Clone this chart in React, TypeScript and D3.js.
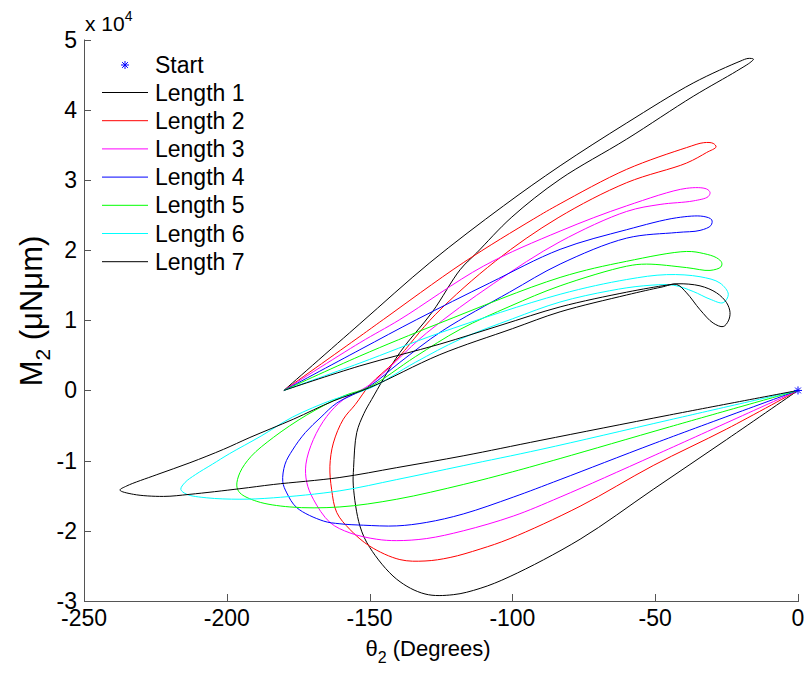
import * as d3 from "d3";
import * as React from "react";

// theta2 in degrees, M2 in units of 10^4 uN.um.
// every length is traced from Start (0,0): lower loop, back through ~(-150,0),
// out to the upper tip, then back along the upper edge to (-180,0)
const length1: [number, number][] = [
  [0, 0], [-25, -0.7], [-50.7, -1.41], [-76.3, -2.12], [-100.8, -2.65], [-111.3, -2.82],
  [-120.7, -2.91], [-130.6, -2.9], [-140.5, -2.69], [-149.9, -2.24], [-153.4, -1.93],
  [-155.7, -1.36], [-155.6, -1.1], [-154.5, -0.6], [-152, -0.33], [-149.3, -0.13],
  [-139.4, 0.54], [-128, 1.12], [-118.3, 1.72], [-112.5, 1.96], [-100.2, 2.47],
  [-83.3, 3.01], [-60, 3.58], [-36.7, 4.19], [-21.5, 4.55], [-16.5, 4.68], [-15.6, 4.72],
  [-17.5, 4.73], [-20.3, 4.69], [-36.7, 4.38], [-60, 3.81], [-83.3, 3.2], [-103.1, 2.63],
  [-128.9, 1.82], [-153.4, 0.95], [-180, 0],
];
const length2: [number, number][] = [
  [0, 0], [-25, -0.55], [-50.7, -1.07], [-76.3, -1.65], [-100.8, -2.11], [-111.3, -2.26],
  [-121.8, -2.38], [-130.6, -2.43], [-139.4, -2.41], [-149.9, -2.22], [-156.9, -1.98],
  [-161.5, -1.74], [-163.3, -1.41], [-163.9, -1.08], [-162.7, -0.75], [-159.2, -0.41],
  [-155, -0.2], [-149.9, 0.08], [-141, 0.42], [-127, 1.08], [-106, 1.84], [-84, 2.46],
  [-60, 2.96], [-39, 3.24], [-32, 3.39], [-28.7, 3.47], [-29.7, 3.52], [-33, 3.53],
  [-39, 3.46], [-60, 3.15], [-83.3, 2.66], [-92.7, 2.44], [-117.2, 1.82], [-145.2, 1.01],
  [-153.4, 0.77], [-180, 0],
];
const length3: [number, number][] = [
  [0, 0], [-50, -0.92], [-83.3, -1.52], [-99.7, -1.79], [-117.2, -2.0], [-130, -2.11],
  [-140.5, -2.14], [-147.5, -2.12], [-156.9, -2.03], [-163.9, -1.88], [-169.7, -1.55],
  [-172, -1.31], [-172.3, -1.05], [-169.7, -0.7], [-165, -0.37], [-159.2, -0.13],
  [-150, 0.08], [-130, 0.82], [-106.7, 1.52], [-83.3, 2.12], [-60, 2.55], [-48.3, 2.65],
  [-36.7, 2.7], [-31.5, 2.76], [-30.8, 2.82], [-32, 2.87], [-39, 2.88], [-60, 2.63],
  [-83.3, 2.27], [-110.2, 1.77], [-139.4, 1.01], [-153.4, 0.68], [-180, 0],
];
const length4: [number, number][] = [
  [0, 0], [-50, -0.75], [-83.3, -1.27], [-99.7, -1.52], [-117.2, -1.76], [-130, -1.88],
  [-140.5, -1.93], [-152.2, -1.92], [-160.4, -1.9], [-166.2, -1.86], [-175.5, -1.67],
  [-179, -1.46], [-180.4, -1.3], [-179.6, -1.05], [-177, -0.85], [-172.5, -0.6],
  [-167, -0.38], [-161.5, -0.18], [-150, 0.06], [-139.4, 0.4], [-124.5, 0.85],
  [-101, 1.4], [-83.3, 1.8], [-60, 2.17], [-42.5, 2.25], [-34.3, 2.28], [-30.5, 2.35],
  [-30.2, 2.43], [-33.2, 2.48], [-42.5, 2.46], [-60, 2.29], [-83.3, 2.01], [-108, 1.53],
  [-133.5, 1.01], [-153.4, 0.58], [-180, 0],
];
const length5: [number, number][] = [
  [0, 0], [-45, -0.52], [-83.3, -0.97], [-100, -1.16], [-117.2, -1.34], [-140.5, -1.55],
  [-160.4, -1.66], [-177.9, -1.66], [-189.5, -1.58], [-195.4, -1.46], [-196.5, -1.36],
  [-195.4, -1.17], [-191.5, -0.94], [-183.7, -0.67], [-172, -0.35], [-159.2, -0.08],
  [-150, 0.05], [-134, 0.48], [-118.3, 0.87], [-100.8, 1.2], [-83.3, 1.49], [-60, 1.77],
  [-53, 1.8], [-39, 1.75], [-30.8, 1.71], [-27, 1.76], [-26.7, 1.82], [-28.5, 1.89],
  [-33, 1.95], [-39, 1.98], [-60, 1.84], [-83.3, 1.61], [-125.4, 0.96], [-153.4, 0.49],
  [-180, 0],
];
const length6: [number, number][] = [
  [0, 0], [-45, -0.42], [-90, -0.84], [-117, -1.07], [-140.5, -1.27],
  [-160.4, -1.43], [-183.7, -1.53], [-195.4, -1.55], [-207, -1.53], [-214, -1.48],
  [-216.1, -1.41], [-214.6, -1.31], [-211, -1.2], [-205, -1.05], [-199, -0.9],
  [-188, -0.65], [-177, -0.38], [-162.7, -0.13], [-150, 0.03], [-134, 0.4],
  [-118.3, 0.73], [-100, 1.02], [-83.3, 1.26], [-66, 1.42], [-54.2, 1.49], [-43.7, 1.5],
  [-36.7, 1.41], [-30.8, 1.3], [-26.2, 1.25], [-24.4, 1.37], [-27.3, 1.53], [-34.3, 1.62],
  [-46, 1.65], [-60, 1.58], [-83.3, 1.37], [-125.4, 0.82], [-153.4, 0.39], [-180, 0],
];
const length7: [number, number][] = [
  [0, 0], [-45, -0.35], [-90, -0.71], [-117, -0.93], [-140.5, -1.1],
  [-160.4, -1.24], [-183.7, -1.34], [-195.4, -1.4], [-212.9, -1.48], [-222.2, -1.51],
  [-232.7, -1.48], [-237.4, -1.42], [-235, -1.36], [-224.5, -1.2], [-212.9, -1.03],
  [-201.2, -0.84], [-191.9, -0.67], [-176.7, -0.41], [-162.7, -0.15], [-150, 0.04],
  [-125.4, 0.51], [-100, 0.88], [-83.3, 1.12], [-60, 1.36], [-48, 1.47], [-42.5, 1.51],
  [-39, 1.39], [-34.3, 1.15], [-29.7, 0.96], [-26.2, 0.91], [-24.4, 0.99], [-23.8, 1.11],
  [-25, 1.25], [-28.5, 1.39], [-34.3, 1.49], [-42, 1.52], [-46, 1.5], [-60, 1.4],
  [-83.3, 1.19], [-104, 0.93], [-125.4, 0.66], [-153.4, 0.35], [-180, 0],
];

const names = ["Length 1", "Length 2", "Length 3", "Length 4", "Length 5", "Length 6", "Length 7"];
const colors = ["#000000", "#ff0000", "#ff00ff", "#0000ff", "#00ff00", "#00ffff", "#000000"];
const lengths = [length1, length2, length3, length4, length5, length6, length7];
const start: [number, number] = [0, 0];

const xTicks = [-250, -200, -150, -100, -50, 0];
const yTicks = [-3, -2, -1, 0, 1, 2, 3, 4, 5];

const font = "'Liberation Sans', Arial, Helvetica, sans-serif";

function starPath(cx: number, cy: number, r: number) {
  const d = r * 0.72;
  return `M${cx - r},${cy}H${cx + r}M${cx},${cy - r}V${cy + r}` +
    `M${cx - d},${cy - d}L${cx + d},${cy + d}M${cx - d},${cy + d}L${cx + d},${cy - d}`;
}

export default function App() {
  const width = 809;
  const height = 674;
  const margin = { top: 39.5, right: 11, bottom: 73, left: 84 };

  const x = d3.scaleLinear().domain([-250, 0]).range([margin.left, width - margin.right]);
  const y = d3.scaleLinear().domain([-3, 5]).range([height - margin.bottom, margin.top]);

  const line = d3
    .line<[number, number]>()
    .x((d) => x(d[0]))
    .y((d) => y(d[1]))
    .curve(d3.curveCatmullRom.alpha(0.5));

  const x0 = x(-250);
  const yb = y(-3);

  return (
    <svg
      width={width}
      height={height}
      style={{ position: "absolute", left: 0, top: 0, background: "#fff" }}
      fontFamily={font}
    >
      {/* curves */}
      <g fill="none" strokeWidth={1} strokeLinejoin="round">
        {lengths.map((data, i) => (
          <path key={names[i]} d={line(data) || ""} stroke={colors[i]} />
        ))}
      </g>
      <path d={starPath(x(start[0]), y(start[1]), 4)} stroke="#0000ff" strokeWidth={1} />

      {/* axes */}
      <g stroke="#555" strokeWidth={1}>
        <line x1={x0 + 0.5} x2={x0 + 0.5} y1={y(5)} y2={yb + 0.5} />
        <line x1={x0} x2={x(0) + 1} y1={yb + 0.5} y2={yb + 0.5} />
        {xTicks.map((t) => (
          <line key={t} x1={Math.round(x(t)) + 0.5} x2={Math.round(x(t)) + 0.5} y1={yb} y2={yb - 7} />
        ))}
        {yTicks.map((t) => (
          <line key={t} x1={x0} x2={x0 + 7} y1={Math.round(y(t)) + 0.5} y2={Math.round(y(t)) + 0.5} />
        ))}
      </g>
      <g fontSize={23} fill="#000">
        {xTicks.map((t) => (
          <text key={t} x={x(t)} y={yb + 25} textAnchor="middle">{t}</text>
        ))}
        {yTicks.map((t) => (
          <text key={t} x={x0 - 7} y={y(t) + 8} textAnchor="end">{t}</text>
        ))}
      </g>
      <text x={x0 + 1} y={31} fontSize={21}>
        x 10<tspan dy={-10} fontSize={14}>4</tspan>
      </text>

      {/* axis labels */}
      <text x={428} y={656} fontSize={22} textAnchor="middle">
        θ<tspan dy={7} fontSize={16}>2</tspan>
        <tspan dy={-7}> (Degrees)</tspan>
      </text>
      <text transform="translate(42,311) rotate(-90)" fontSize={31} textAnchor="middle">
        M<tspan dy={8} fontSize={21}>2</tspan>
        <tspan dy={-8}> (μNμm)</tspan>
      </text>

      {/* legend */}
      <g fontSize={23}>
        <path d={starPath(125, 65, 4)} stroke="#0000ff" strokeWidth={1} />
        <text x={155} y={73}>Start</text>
        {names.map((n, i) => {
          const ly = 92.5 + i * 28.2;
          return (
            <g key={n}>
              <line x1={102} x2={148} y1={ly} y2={ly} stroke={colors[i]} strokeWidth={1} />
              <text x={155} y={ly + 8}>{n}</text>
            </g>
          );
        })}
      </g>
    </svg>
  );
}
